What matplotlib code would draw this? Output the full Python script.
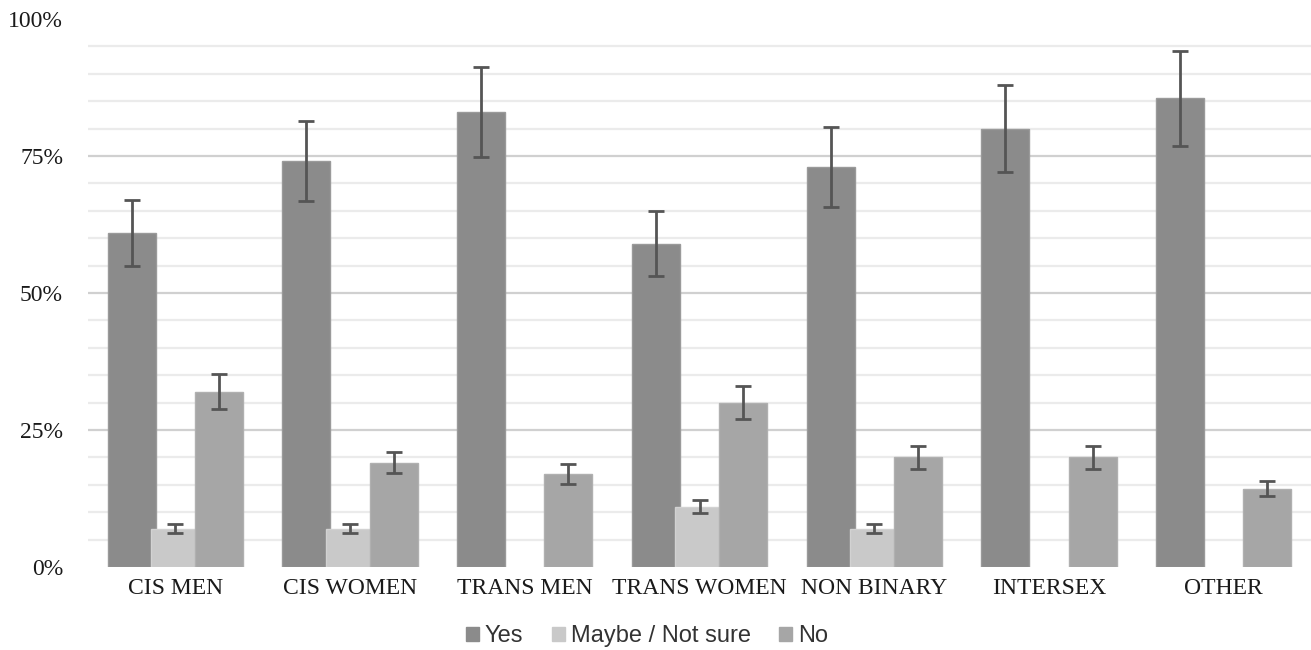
import matplotlib
matplotlib.use("Agg")
import matplotlib.pyplot as plt
import numpy as np
from matplotlib.patches import Patch

categories = ["CIS MEN", "CIS WOMEN", "TRANS MEN", "TRANS WOMEN", "NON BINARY", "INTERSEX", "OTHER"]
series_names = ["Yes", "Maybe / Not sure", "No"]
yes_vals = [61, 74, 83, 59, 73, 80, 85.5]
yes_err = [6, 7.3, 8.2, 5.9, 7.3, 8, 8.6]
maybe_vals = [7, 7, 0, 11, 7, 0, 0]
maybe_err = [0.8, 0.8, 0, 1.2, 0.8, 0, 0]
no_vals = [32, 19, 17, 30, 20, 20, 14.3]
no_err = [3.2, 1.9, 1.8, 3.0, 2.1, 2.1, 1.4]
y_ticks = [0, 25, 50, 75, 100]
y_tick_labels = ["0%", "25%", "50%", "75%", "100%"]

colors = ["#8b8b8b", "#c9c9c9", "#a6a6a6"]
edge_colors = ["#9a9a9a", "#d2d2d2", "#b0b0b0"]

fig = plt.figure(figsize=(13.11, 6.5), dpi=100)
ax = fig.add_axes([88/1311, 1-567/650, 1-88/1311, (567-19)/650])

x = np.arange(len(categories))
offsets = [-0.25, 0.0, 0.25]
width = 0.275
vals = [yes_vals, maybe_vals, no_vals]
errs = [yes_err, maybe_err, no_err]
for i in range(3):
    v = np.array(vals[i], dtype=float)
    e = np.array(errs[i], dtype=float)
    mask = v > 0
    ax.bar(x[mask] + offsets[i], v[mask], width=width, color=colors[i],
           edgecolor=edge_colors[i], linewidth=1.0, zorder=2 + i, label=series_names[i])
    ax.errorbar(x[mask] + offsets[i], v[mask], yerr=e[mask], fmt="none",
                ecolor="#555555", elinewidth=2.0, capsize=6, capthick=2.0, zorder=6)

ax.set_xlim(-0.5, len(categories) - 0.5)
ax.set_ylim(0, 100)
ax.set_yticks(y_ticks)
ax.set_yticklabels(y_tick_labels)
ax.set_yticks(np.arange(5, 100, 5), minor=True)
ax.yaxis.grid(True, which="major", color="#d0d0d0", linewidth=1.6, zorder=0)
ax.yaxis.grid(True, which="minor", color="#ebebeb", linewidth=1.6, zorder=0)
ax.set_axisbelow(True)
ax.yaxis.get_gridlines()[-1].set_visible(False)
ax.yaxis.get_gridlines()[0].set_visible(False)

ax.set_xticks(x)
ax.set_xticklabels(categories)
for s in ax.spines.values():
    s.set_visible(False)
ax.tick_params(axis="both", which="both", length=0)
ax.tick_params(axis="y", pad=18)
ax.tick_params(axis="x", pad=8)
for lab in ax.get_xticklabels() + ax.get_yticklabels():
    lab.set_fontfamily("Liberation Serif")
    lab.set_fontsize(17)
    lab.set_color("#1a1a1a")

handles = [Patch(facecolor=colors[i], edgecolor=colors[i]) for i in range(3)]
fig.legend(handles, series_names, loc="center", bbox_to_anchor=(647/1311, 1-636/650),
           ncol=3, frameon=False, handlelength=0.55, handleheight=0.55, handletextpad=0.25,
           columnspacing=1.2, prop={"family": "Liberation Sans", "size": 17},
           labelcolor="#333333")

fig.savefig("out.png", dpi=100, facecolor="white")
